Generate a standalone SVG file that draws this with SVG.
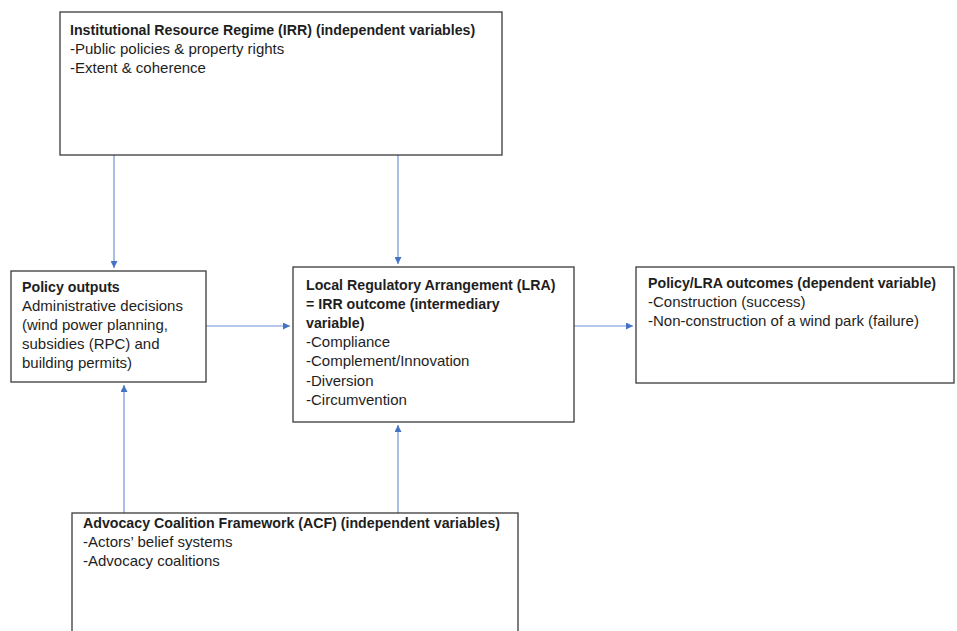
<svg xmlns="http://www.w3.org/2000/svg" width="957" height="631" viewBox="0 0 957 631">
<defs>
<marker id="ah" viewBox="0 0 10 10" refX="10" refY="5" markerWidth="7" markerHeight="7" markerUnits="userSpaceOnUse" orient="auto">
<path d="M0,0 L10,5 L0,10 z" fill="#4472c4"/>
</marker>
<style>
.box{fill:#fff;stroke:#3a3a3a;stroke-width:1.3}
text{font-family:"Liberation Sans",Arial,sans-serif;font-size:15px;fill:#1e1e1e}
.b{font-weight:bold;font-size:14.2px}
.c{fill:none;stroke:#6f93d6;stroke-width:1.2;marker-end:url(#ah)}
</style>
</defs>
<rect width="957" height="631" fill="#fff"/>
<g id="connectors">
<line class="c" x1="114" y1="155" x2="114" y2="268"/>
<line class="c" x1="398" y1="155" x2="398" y2="264"/>
<line class="c" x1="206" y1="326" x2="290" y2="326"/>
<line class="c" x1="574" y1="326" x2="633" y2="326"/>
<line class="c" x1="124" y1="513" x2="124" y2="385"/>
<line class="c" x1="398" y1="513" x2="398" y2="425"/>
</g>
<g id="irr">
<rect class="box" x="60" y="12" width="442" height="143"/>
<text x="70" y="35" class="b">Institutional Resource Regime (IRR) (independent variables)</text>
<text x="70" y="54">-Public policies &amp; property rights</text>
<text x="70" y="73">-Extent &amp; coherence</text>
</g>
<g id="policy-outputs">
<rect class="box" x="11" y="271" width="195" height="111"/>
<text x="22" y="292" class="b">Policy outputs</text>
<text x="22" y="311">Administrative decisions</text>
<text x="22" y="330">(wind power planning,</text>
<text x="22" y="349">subsidies (RPC) and</text>
<text x="22" y="368">building permits)</text>
</g>
<g id="lra">
<rect class="box" x="293" y="267" width="281" height="155"/>
<text x="306" y="290" class="b">Local Regulatory Arrangement (LRA)</text>
<text x="306" y="309" class="b">= IRR outcome (intermediary</text>
<text x="306" y="328" class="b">variable)</text>
<text x="306" y="347">-Compliance</text>
<text x="306" y="366">-Complement/Innovation</text>
<text x="306" y="386">-Diversion</text>
<text x="306" y="405">-Circumvention</text>
</g>
<g id="outcomes">
<rect class="box" x="636" y="267" width="318" height="116"/>
<text x="648" y="288" class="b">Policy/LRA outcomes (dependent variable)</text>
<text x="648" y="307">-Construction (success)</text>
<text x="648" y="326">-Non-construction of a wind park (failure)</text>
</g>
<g id="acf">
<rect class="box" x="72" y="513" width="446" height="130"/>
<text x="83" y="528" class="b">Advocacy Coalition Framework (ACF) (independent variables)</text>
<text x="83" y="547">-Actors’ belief systems</text>
<text x="83" y="566">-Advocacy coalitions</text>
</g>
</svg>
